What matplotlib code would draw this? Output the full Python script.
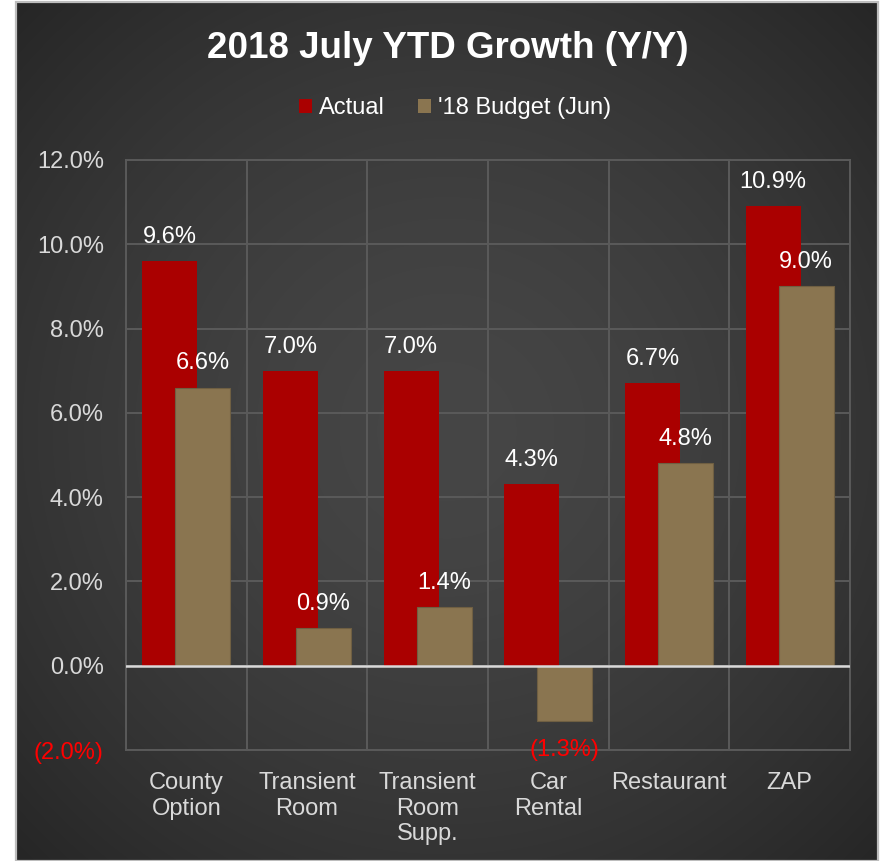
import numpy as np
import matplotlib
matplotlib.use("Agg")
import matplotlib.pyplot as plt
from matplotlib.patches import Rectangle, Patch
from matplotlib.ticker import FixedLocator, FuncFormatter

plt.rcParams['font.family'] = ['Liberation Sans', 'DejaVu Sans']

# ---- data ----
categories = ["County\nOption", "Transient\nRoom", "Transient\nRoom\nSupp.",
              "Car\nRental", "Restaurant", "ZAP"]
actual = [9.6, 7.0, 7.0, 4.3, 6.7, 10.9]
budget = [6.6, 0.9, 1.4, -1.3, 4.8, 9.0]
series_names = ["Actual", "'18 Budget (Jun)"]
title = "2018 July YTD Growth (Y/Y)"
y_ticks = [-2, 0, 2, 4, 6, 8, 10, 12]

# ---- style ----
RED = "#aa0000"
TAN = "#8a7550"
TAN_EDGE = "#6f5f42"
GRID = "#5a5a5a"
LIGHT = "#d9d9d9"
NEG = "#ff0000"

W, H = 885, 861
fig = plt.figure(figsize=(W / 100, H / 100), dpi=100, facecolor="white")

# dark chart panel with soft radial shading
bg = fig.add_axes([16 / W, 0, (878 - 16) / W, (861 - 2) / H])
bg.set_axis_off()
nx, ny = 400, 400
xx, yy = np.meshgrid(np.linspace(-1, 1, nx), np.linspace(-1, 1, ny))
r = np.sqrt(xx ** 2 + yy ** 2) / np.sqrt(2)
shade = 0x46 - (0x46 - 0x26) * np.clip(r, 0, 1) ** 1.6
img = np.dstack([shade, shade, shade]) / 255.0
bg.imshow(img, extent=[0, 1, 0, 1], aspect="auto", interpolation="bilinear")
bg.set_xlim(0, 1)
bg.set_ylim(0, 1)
bg.add_patch(Rectangle((0, 0), 1, 1, transform=bg.transAxes, fill=False,
                       edgecolor="#bdbdbd", linewidth=1.6, clip_on=False))

# ---- plot area ----
ax = fig.add_axes([126 / W, 1 - 750 / H, (850 - 126) / W, (750 - 160) / H])
ax.set_facecolor("none")
ax.set_xlim(-0.5, len(categories) - 0.5)
ax.set_ylim(-2, 12)

x = np.arange(len(categories))
bw = 0.455
off = 0.137
ax.bar(x - off, actual, width=bw, color=RED, zorder=3, linewidth=0)
ax.bar(x + off, budget, width=bw, color=TAN, edgecolor=TAN_EDGE,
       linewidth=0.8, zorder=4)

# grid
ax.yaxis.set_major_locator(FixedLocator(y_ticks))
ax.xaxis.set_major_locator(FixedLocator(list(x)))
ax.xaxis.set_minor_locator(FixedLocator(list(np.arange(-0.5, len(categories), 1.0))))
ax.grid(axis="y", which="major", color=GRID, linewidth=1.4, zorder=1)
ax.grid(axis="x", which="minor", color=GRID, linewidth=1.4, zorder=1)
for s in ax.spines.values():
    s.set_color(GRID)
    s.set_linewidth(1.4)
    s.set_zorder(1)
ax.axhline(0, color=LIGHT, linewidth=1.8, zorder=5)

# tick labels
ax.tick_params(axis="both", which="both", length=0)
ax.tick_params(axis="y", pad=16, labelsize=17, labelcolor=LIGHT)
ax.tick_params(axis="x", pad=16, labelsize=17, labelcolor=LIGHT)
ax.yaxis.set_major_formatter(
    FuncFormatter(lambda v, p: f"({abs(v):.1f}%)" if v < 0 else f"{v:.1f}%"))
ax.set_xticklabels(categories, linespacing=1.2, va="top")
fig.canvas.draw()
for lbl, v in zip(ax.get_yticklabels(), y_ticks):
    lbl.set_color(NEG if v < 0 else LIGHT)

# value labels
def put_labels(xs, vals):
    for xi, v in zip(xs, vals):
        if v >= 0:
            ax.annotate(f"{v:.1f}%", (xi, v), xytext=(0, 9.5),
                        textcoords="offset points", ha="center", va="bottom",
                        fontsize=17, color="white", zorder=6)
        else:
            ax.annotate(f"({abs(v):.1f}%)", (xi, v), xytext=(0, -13.5),
                        textcoords="offset points", ha="center", va="top",
                        fontsize=17, color=NEG, zorder=6, annotation_clip=False)

put_labels(x - off, actual)
put_labels(x + off, budget)

# title & legend
fig.text(448 / W, 1 - 49 / H, title, ha="center", va="center",
         fontsize=26.5, fontweight="bold", color="white")
handles = [Patch(facecolor=RED, edgecolor="none"),
           Patch(facecolor=TAN, edgecolor="none")]
fig.legend(handles, series_names, loc="center",
           bbox_to_anchor=(455 / W, 1 - 108 / H), ncol=2, frameon=False,
           fontsize=17, labelcolor="white", handlelength=0.55,
           handleheight=0.55, handletextpad=0.3, columnspacing=1.4)

fig.savefig("out.png", dpi=100, facecolor="white")
